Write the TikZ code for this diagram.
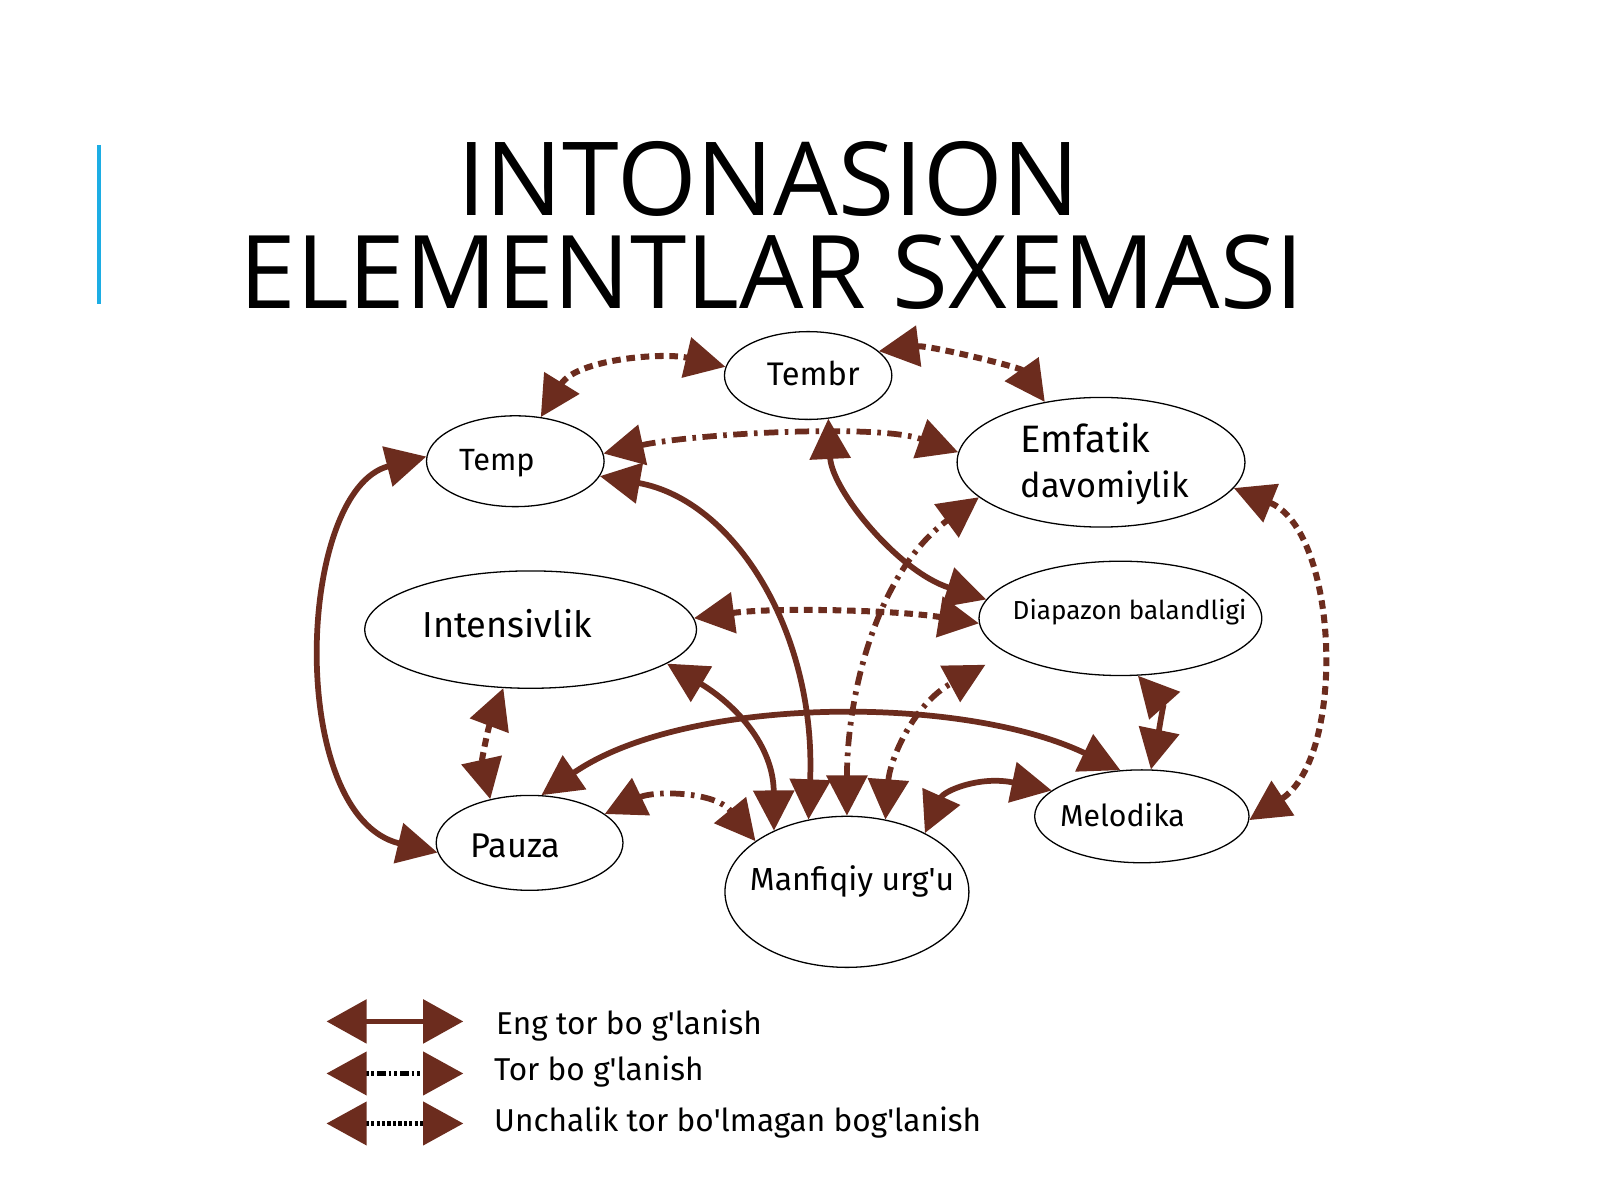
\documentclass[tikz,border=0pt]{standalone}
\usepackage{fontspec}
\usepackage{graphicx}
\usetikzlibrary{arrows.meta,shapes.geometric}
\newfontfamily\titlefont{Open Sans}
\newfontfamily\labfont{Fira Sans}
\definecolor{brn}{RGB}{108,44,30}
\definecolor{accentblue}{RGB}{28,173,228}
\newcommand\fitto[2]{\resizebox{#1}{!}{\labfont\fontsize{20}{24}\selectfont #2}}
\begin{document}
\begin{tikzpicture}[x=0.025cm,y=-0.025cm,
  tri/.tip={Triangle[length=28pt,width=28pt]},
  legtri/.tip={Triangle[length=28pt,width=30pt,color=brn]},
  elem/.style={draw=black,line width=0.9pt,ellipse,inner sep=0pt},
  lab/.style={inner sep=0pt,anchor=base,text=black},
  conn/.style={draw=brn,tri-tri},
  solidc/.style={conn,line width=4pt},
  dashdotc/.style={conn,line width=4pt,dash pattern=on 10pt off 4.5pt on 2.5pt off 4.5pt},
  dottedc/.style={conn,line width=4.2pt,dash pattern=on 6pt off 4pt},
  legtext/.style={inner sep=0pt,anchor=base west,font=\labfont\fontsize{22}{26}\selectfont},
]
\fill[white] (0,0) rectangle (1568,1176);
\useasboundingbox (0,0) rectangle (1568,1176);

% title
\draw[accentblue,line width=2.2pt] (97,142) -- (97,298);
\node[inner sep=0pt,anchor=base] (t1) at (753,211) {\resizebox{15.25cm}{!}{\titlefont INTONASION}};
\node[inner sep=0pt,anchor=base] (t2) at (756.5,302) {\resizebox{26.075cm}{!}{\titlefont ELEMENTLAR SXEMASI}};

% ellipses
\node[elem,minimum width=4.1cm,minimum height=2.15cm] (tembr) at (792,368) {};
\node[elem,minimum width=4.35cm,minimum height=2.225cm] (temp) at (505,452) {};
\node[elem,minimum width=7.05cm,minimum height=3.175cm] (emf) at (1079,453) {};
\node[elem,minimum width=8.125cm,minimum height=2.875cm] (int) at (520,617) {};
\node[elem,minimum width=6.925cm,minimum height=2.8cm] (diap) at (1098,606) {};
\node[elem,minimum width=4.575cm,minimum height=2.325cm] (pauza) at (519,826) {};
\node[elem,minimum width=5.975cm,minimum height=3.7cm] (manf) at (830,874) {};
\node[elem,minimum width=5.25cm,minimum height=2.275cm] (mel) at (1119,800) {};

% labels
\node[lab] (tembrL) at (797,378) {\fitto{2.275cm}{Tembr}};
\node[lab] (tempL) at (487,461) {\fitto{1.85cm}{Temp}};
\node[lab,anchor=base west] (emfL1) at (1000,443) {\fitto{3.175cm}{Emfatik}};
\node[lab,anchor=base west] (emfL2) at (1000,488) {\fitto{4.125cm}{davomiylik}};
\node[lab] (intL) at (497,625) {\fitto{4.15cm}{Intensivlik}};
\node[lab] (diapL) at (1107,607) {\fitto{5.725cm}{Diapazon balandligi}};
\node[lab] (pauzaL) at (505,840) {\fitto{2.2cm}{Pauza}};
\node[lab] (manfL) at (835,873) {\fitto{5.0cm}{Manfiqiy urg\textquotesingle u}};
\node[lab] (melL) at (1100,810) {\fitto{3.05cm}{Melodika}};

% connectors
\draw[dottedc] (temp.60) .. controls (565,352) and (650,345) .. (tembr.174);
\draw[dottedc] (tembr.19) .. controls (910,338) and (1000,360) .. (emf.133);
\draw[dashdotc] (temp.5) .. controls (680,425) and (860,415) .. (emf.176);
\draw[solidc] (tembr.-65) .. controls (815,480) and (880,560) .. (diap.172);
\draw[solidc] (temp.-10) .. controls (720,490) and (800,620) .. (manf.118);
\draw[solidc] (temp.177) .. controls (290,480) and (280,800) .. (pauza.186);
\draw[dottedc] (int.4.5) .. controls (760,595) and (880,598) .. (diap.182);
\draw[dottedc] (int.-115) .. controls (478,715) and (472,745) .. (pauza.132);
\draw[solidc] (int.-14) .. controls (720,690) and (758,730) .. (manf.140);
\draw[solidc] (pauza.76) .. controls (671,682) and (942,680) .. (mel.115);
\draw[dashdotc] (manf.90) .. controls (830,680) and (860,560) .. (emf.196);
\draw[dashdotc,shorten >=17pt] (manf.62) .. controls (872,745) and (895,690) .. (diap.197);
\draw[dashdotc] (pauza.21) .. controls (640,775) and (700,775) .. (manf.151);
\draw[solidc] (manf.37) .. controls (925,775) and (960,760) .. (mel.164);
\draw[solidc] (diap.-73) .. controls (1140,690) and (1135,720) .. (mel.79);
\draw[dottedc] (emf.-11) .. controls (1312,520) and (1320,741) .. (mel.-2);

% legend
\coordinate (l1a) at (320,1001); \coordinate (l1b) at (454,1001);
\coordinate (l2a) at (320,1052); \coordinate (l2b) at (454,1052);
\coordinate (l3a) at (320,1101); \coordinate (l3b) at (454,1101);
\draw[draw=brn,line width=4pt,legtri-legtri] (l1a) -- (l1b);
\draw[draw=black,line width=3pt,legtri-legtri,dash pattern=on 2pt off 2pt on 2pt off 2pt on 6pt off 2pt] (l2a) -- (l2b);
\draw[draw=black,line width=3pt,legtri-legtri,dash pattern=on 2.2pt off 1.6pt] (l3a) -- (l3b);
\node[legtext] (lt1) at (486,1014) {Eng tor bo g\textquotesingle lanish};
\node[legtext] (lt2) at (484,1059) {Tor bo g\textquotesingle lanish};
\node[legtext] (lt3) at (484,1109) {Unchalik tor bo\textquotesingle lmagan bog\textquotesingle lanish};
\end{tikzpicture}
\end{document}
